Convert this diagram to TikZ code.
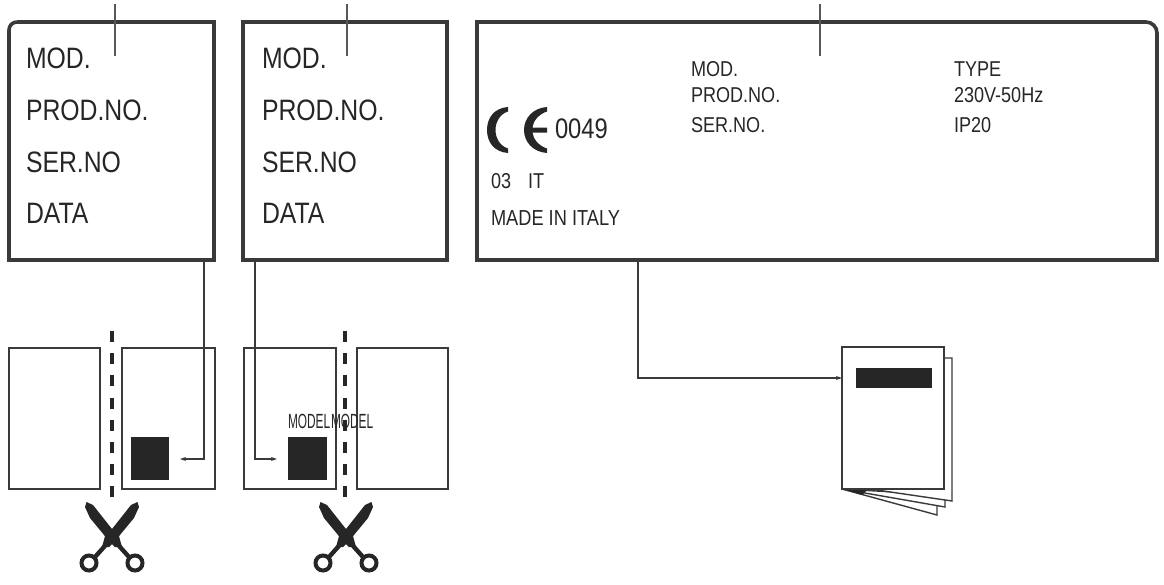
\documentclass[tikz,border=0pt]{standalone}
\usepackage{fontspec}
\usepackage{graphicx}
\setmainfont{Liberation Sans}
\usetikzlibrary{arrows.meta}
\definecolor{ink}{HTML}{262626}
\definecolor{lineink}{HTML}{3A3A3A}
\newcommand{\fs}[1]{\fontsize{#1}{#1}\selectfont}
\newcommand{\cond}[2]{\scalebox{0.84}[1]{\fs{#1}#2}}
\tikzset{
  x=1pt,y=-1pt,
  every node/.style={outer sep=0pt},
  plate/.style={minimum width=#1,minimum height=238pt,inner sep=0pt,anchor=north west},
  plateline/.style={draw=lineink,line width=3.6pt},
  sheet/.style={draw=lineink,line width=1.6pt,fill=white,minimum height=141pt,inner sep=0pt,anchor=north west,minimum width=#1},
  blackbox/.style={fill=ink,inner sep=0pt,anchor=north west},
  textline/.style={text=ink,inner sep=0pt,anchor=base west},
  tick/.style={draw=lineink!85,line width=1.5pt},
  conn/.style={draw=lineink,line width=1.3pt,-{Stealth[length=6pt,width=4pt]}},
  cutline/.style={draw=ink,line width=3.6pt,dash pattern=on 11pt off 11.2pt},
  fan/.style={draw=lineink,line width=1.4pt},
  scissors/.pic={
    \foreach \s in {1,-1}{
      \begin{scope}[xscale=\s]
        \fill[ink] (-27,-31) -- (-25.5,-36) -- (-19,-33) -- (0,-9) -- (7,-2) -- (10,9) -- (3,9) -- (-3,3) -- (-22,-20) -- cycle;
        \draw[ink,line width=4.4pt] (0,0) -- (17,19);
        \draw[ink,line width=4pt,fill=white] (23,25) circle (7.5);
      \end{scope}
    }
  }
}
\begin{document}
\begin{tikzpicture}
\useasboundingbox (0,0) rectangle (1164,584);
% top plates
\node[plate=205pt] (box1) at (9,22) {};
\draw[plateline] ([xshift=8pt]box1.north west) -- (box1.north east) -- (box1.south east) -- (box1.south west) -- ([yshift=-8pt]box1.north west) arc[start angle=180,end angle=270,radius=8];
\node[plate=204pt] (box2) at (243,22) {};
\draw[plateline,line width=3.2pt] (box2.north west) -- (box2.north east) -- (box2.south east) -- (box2.south west) -- cycle;
\node[plate=680pt] (box3) at (477,22) {};
\draw[plateline] (box3.north west) -- ([xshift=-11pt]box3.north east)
  arc[start angle=-90,end angle=0,radius=11] -- (box3.south east) -- (box3.south west) -- cycle;
% ticks
\coordinate (t1) at (115,4); \coordinate (t2) at (347,4); \coordinate (t3) at (820,4);
\draw[tick] (t1) -- (115,56);
\draw[tick] (t2) -- (347,56);
\draw[tick] (t3) -- (820,56);
% plate text
\foreach \x/\n in {26/a,262/b}{
  \node[textline] (\n1) at (\x,68) {\cond{29.5}{MOD.}};
  \node[textline] (\n2) at (\x,120) {\cond{29.5}{PROD.NO.}};
  \node[textline] (\n3) at (\x,172) {\cond{29.5}{SER.NO}};
  \node[textline] (\n4) at (\x,223) {\cond{29.5}{DATA}};
}
\node[textline] (m1) at (691,76.5) {\cond{21.5}{MOD.}};
\node[textline] (m2) at (691,102) {\cond{21.5}{PROD.NO.}};
\node[textline] (m3) at (691,132) {\cond{21.5}{SER.NO.}};
\node[textline] (n1) at (954,76.5) {\cond{21.5}{TYPE}};
\node[textline] (n2) at (954,102) {\cond{21.5}{230V-50Hz}};
\node[textline] (n3) at (954,132) {\cond{21.5}{IP20}};
% CE mark
\fill[ink] (508,107) .. controls (494,108) and (487,118) .. (487,130)
  .. controls (487,142) and (494,152) .. (508,153) -- (508,148.5)
  .. controls (500,146) and (495.5,138) .. (495.5,130)
  .. controls (495.5,122) and (500,114) .. (508,111.5) -- cycle;
\fill[ink] (547,107) .. controls (533,108) and (524,118) .. (524,130)
  .. controls (524,142) and (533,152) .. (547,153) -- (547,148.5)
  .. controls (539,146) and (533,139) .. (532.5,132.5) -- (547,132.5) -- (547,127.5) -- (532.5,127.5)
  .. controls (533,121) and (539,114) .. (547,111.5) -- cycle;
\node[textline] (cen) at (555,138.5) {\cond{28.3}{0049}};
\node[textline] (yr) at (491,188) {\cond{21.5}{03}};
\node[textline] (it) at (528,188) {\cond{21.5}{IT}};
\node[textline] (made) at (491,225) {\cond{21.7}{MADE IN ITALY}};
% lower sheets
\node[sheet=91pt] (s1) at (9,348) {};
\node[sheet=93pt] (s2) at (122,348) {};
\node[sheet=92pt] (s3) at (244,348) {};
\node[sheet=91pt] (s4) at (357,348) {};
\node[blackbox,minimum width=38pt,minimum height=43pt] (k1) at (131,437) {};
\node[blackbox,minimum width=39pt,minimum height=43pt] (k2) at (288,437) {};
% cut lines
\coordinate (u1) at (112,331); \coordinate (v1) at (112,498);
\coordinate (u2) at (345,331); \coordinate (v2) at (345,498);
\draw[cutline] (u1) -- (v1);
\draw[cutline] (u2) -- (v2);
% booklet
\coordinate (f0) at (842,489);
\draw[fan,fill=white] (f0) -- (937,515) -- (937,500) -- cycle;
\draw[fan,fill=white] (f0) -- (945,507) -- (945,495) -- cycle;
\draw[fan,fill=white] (870,489) -- (952,501) -- (952,358) -- (930,358) -- cycle;
\fill[ink] (f0) -- (868,489) -- (862,495) -- cycle;
\node[draw=lineink,line width=1.6pt,fill=white,minimum width=102pt,minimum height=142pt,inner sep=0pt,anchor=north west] (book) at (842,347) {};
\node[blackbox,minimum width=76pt,minimum height=20pt] (bar) at (856,368) {};
% connectors
\coordinate (e1) at (204,459); \coordinate (e2) at (255,459); \coordinate (e3) at (638,378);
\draw[conn,shorten >=11pt] (box1.south -| e1) -- (e1) -- (k1.east |- e1);
\draw[conn,shorten >=11pt] (box2.south -| e2) -- (e2) -- (k2.west |- e2);
\draw[conn] (box3.south -| e3) -- (e3) -- (book.west |- e3);
% model labels
\node[textline] (mod1) at (288,428) {\scalebox{0.58}[1]{\fs{20.5}MODEL}};
\node[textline] (mod2) at (331,428) {\scalebox{0.58}[1]{\fs{20.5}MODEL}};
% scissors
\pic at (112,538) {scissors};
\pic at (346,538) {scissors};
\end{tikzpicture}
\end{document}
